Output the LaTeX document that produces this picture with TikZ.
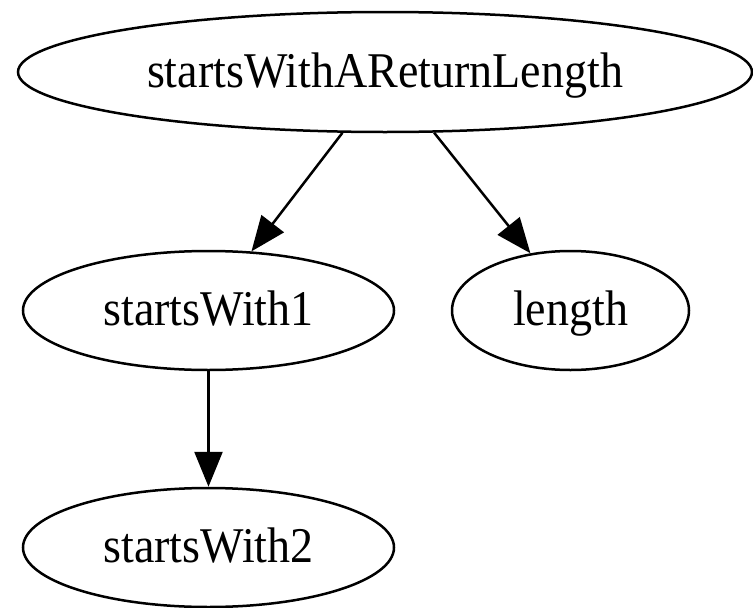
\documentclass[tikz,border=0pt]{standalone}
\usepackage{fontspec}
\setmainfont{Liberation Serif}
\usetikzlibrary{shapes.geometric,arrows.meta}
\tikzset{
  vertex/.style={ellipse, draw, line width=2.5pt, inner sep=0pt,
    text height=34pt, text depth=4pt,
    font=\fontsize{50}{58}\selectfont},
  edge/.style={line width=2.5pt, -{Triangle[length=35pt,width=28pt]}}
}
\newcommand{\narrow}[1]{\scalebox{0.92}[1]{#1}}
\begin{document}
\begin{tikzpicture}[x=1pt,y=-1pt]
  \useasboundingbox (0,0) rectangle (753,608);
  \node[vertex, minimum width=734pt, minimum height=120pt] (top) at (385,72) {\narrow{startsWithAReturnLength}};
  \node[vertex, minimum width=371pt, minimum height=119pt] (s1) at (208.5,310.5) {\narrow{startsWith1}};
  \node[vertex, minimum width=237pt, minimum height=119pt] (len) at (570.5,310.5) {\narrow{length}};
  \node[vertex, minimum width=371pt, minimum height=119pt] (s2) at (208.5,547.5) {\narrow{startsWith2}};
  \draw[edge] (top.235) -- (s1.54);
  \draw[edge] (top.309) -- (len.125);
  \draw[edge] (s1.south) -- (s2.north);
\end{tikzpicture}
\end{document}
